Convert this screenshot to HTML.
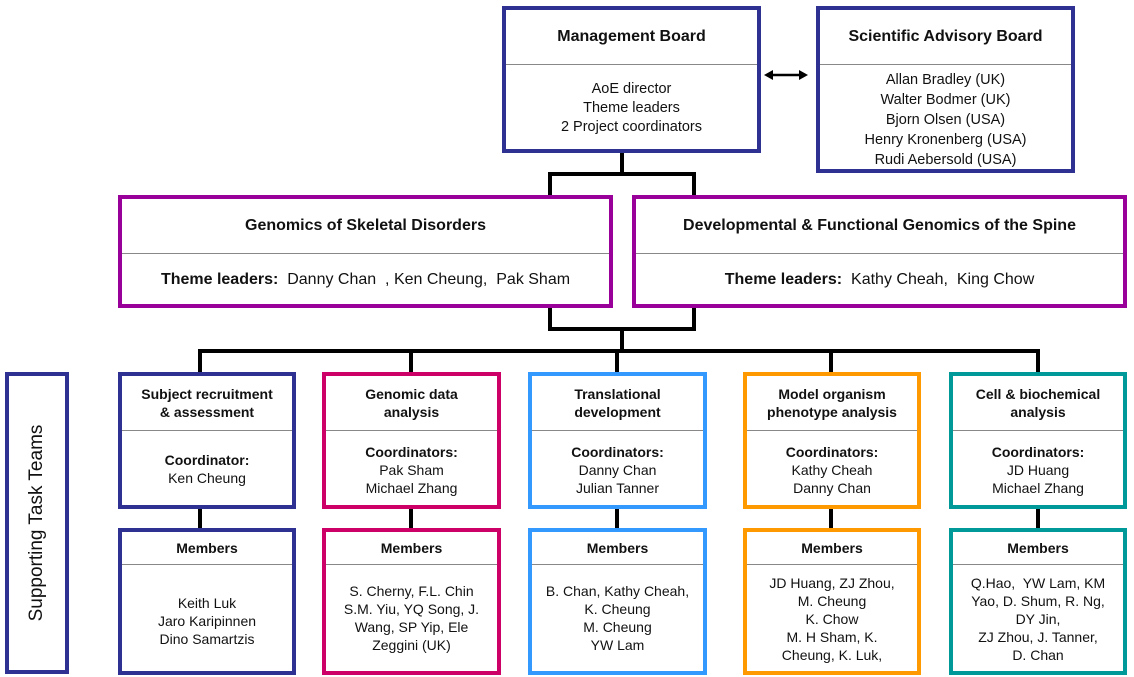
<!DOCTYPE html>
<html><head><meta charset="utf-8"><style>
body{margin:0;width:1134px;height:677px;background:#fff;position:relative;overflow:hidden;font-family:"Liberation Sans",Arial,sans-serif;color:#111}
.b{position:absolute;box-sizing:border-box;border:4px solid;background:#fff}
.d{position:absolute;left:0;right:0;border-top:1px solid #888}
.t{position:absolute;left:0;right:0;text-align:center}
.l{position:absolute;background:#000}
.bold{font-weight:bold}
</style></head><body>
<!-- connectors -->
<div class="l" style="left:620px;top:150px;width:4px;height:26px"></div>
<div class="l" style="left:548px;top:172px;width:148px;height:4px"></div>
<div class="l" style="left:548px;top:172px;width:4px;height:26px"></div>
<div class="l" style="left:692px;top:172px;width:4px;height:26px"></div>
<div class="l" style="left:548px;top:304px;width:4px;height:26px"></div>
<div class="l" style="left:692px;top:304px;width:4px;height:26px"></div>
<div class="l" style="left:548px;top:327px;width:148px;height:4px"></div>
<div class="l" style="left:620px;top:327px;width:4px;height:26px"></div>
<div class="l" style="left:198px;top:349px;width:842px;height:4px"></div>
<div class="l" style="left:198px;top:349px;width:4px;height:26px"></div>
<div class="l" style="left:409px;top:349px;width:4px;height:26px"></div>
<div class="l" style="left:615px;top:349px;width:4px;height:26px"></div>
<div class="l" style="left:829px;top:349px;width:4px;height:26px"></div>
<div class="l" style="left:1036px;top:349px;width:4px;height:26px"></div>
<div class="l" style="left:198px;top:506px;width:4px;height:24px"></div>
<div class="l" style="left:409px;top:506px;width:4px;height:24px"></div>
<div class="l" style="left:615px;top:506px;width:4px;height:24px"></div>
<div class="l" style="left:829px;top:506px;width:4px;height:24px"></div>
<div class="l" style="left:1036px;top:506px;width:4px;height:24px"></div>
<!-- arrow -->
<svg style="position:absolute;left:764px;top:68px" width="44" height="14"><line x1="6" y1="7" x2="38" y2="7" stroke="#000" stroke-width="2.5"/><polygon points="0,7 9,2 9,12" fill="#000"/><polygon points="44,7 35,2 35,12" fill="#000"/></svg>

<div class="b" style="left:502px;top:6px;width:259px;height:147px;border-color:#2e3192">
<div class="t bold" style="top:18px;font-size:16px">Management Board</div>
<div class="d" style="top:54px"></div>
<div class="t" style="top:70px;font-size:14.5px;line-height:19px">AoE director<br>Theme leaders<br>2 Project coordinators</div></div>

<div class="b" style="left:816px;top:6px;width:259px;height:167px;border-color:#2e3192">
<div class="t bold" style="top:18px;font-size:16px">Scientific Advisory Board</div>
<div class="d" style="top:54px"></div>
<div class="t" style="top:60px;font-size:14.5px;line-height:20px">Allan Bradley (UK)<br>Walter Bodmer (UK)<br>Bjorn Olsen (USA)<br>Henry Kronenberg (USA)<br>Rudi Aebersold (USA)</div></div>

<div class="b" style="left:118px;top:195px;width:495px;height:113px;border-color:#990099">
<div class="t bold" style="top:18px;font-size:16px">Genomics of Skeletal Disorders</div>
<div class="d" style="top:54px"></div>
<div class="t" style="top:72px;font-size:16px"><b>Theme leaders:</b>&nbsp; Danny Chan&nbsp; , Ken Cheung,&nbsp; Pak Sham</div></div>

<div class="b" style="left:632px;top:195px;width:495px;height:113px;border-color:#990099">
<div class="t bold" style="top:18px;font-size:16px">Developmental &amp; Functional Genomics of the Spine</div>
<div class="d" style="top:54px"></div>
<div class="t" style="top:72px;font-size:16px"><b>Theme leaders:</b>&nbsp; Kathy Cheah,&nbsp; King Chow</div></div>

<div class="b" style="left:5px;top:372px;width:64px;height:302px;border-color:#2e3192">
<div style="position:absolute;left:28px;top:147px;width:0;height:0"><div style="position:absolute;transform:translate(-50%,-50%) rotate(-90deg);white-space:nowrap;font-size:19px">Supporting Task Teams</div></div></div>

<!-- teams -->
<div class="b" style="left:118px;top:372px;width:178px;height:137px;border-color:#2e3192">
<div class="t bold" style="top:9px;font-size:14px;line-height:18px">Subject recruitment<br>&amp; assessment</div>
<div class="d" style="top:54px"></div>
<div class="t" style="top:75px;font-size:14px;line-height:18px"><b>Coordinator:</b><br>Ken Cheung</div></div>
<div class="b" style="left:118px;top:528px;width:178px;height:147px;border-color:#2e3192">
<div class="t bold" style="top:8px;font-size:14px">Members</div>
<div class="d" style="top:32px"></div>
<div class="t" style="top:62px;font-size:14px;line-height:18px">Keith Luk<br>Jaro Karipinnen<br>Dino Samartzis</div></div>

<div class="b" style="left:322px;top:372px;width:179px;height:137px;border-color:#cc0066">
<div class="t bold" style="top:9px;font-size:14px;line-height:18px">Genomic data<br>analysis</div>
<div class="d" style="top:54px"></div>
<div class="t" style="top:67px;font-size:14px;line-height:18px"><b>Coordinators:</b><br>Pak Sham<br>Michael Zhang</div></div>
<div class="b" style="left:322px;top:528px;width:179px;height:147px;border-color:#cc0066">
<div class="t bold" style="top:8px;font-size:14px">Members</div>
<div class="d" style="top:32px"></div>
<div class="t" style="top:50px;font-size:14px;line-height:18px">S. Cherny, F.L. Chin<br>S.M. Yiu, YQ Song, J.<br>Wang, SP Yip, Ele<br>Zeggini (UK)</div></div>

<div class="b" style="left:528px;top:372px;width:179px;height:137px;border-color:#3399ff">
<div class="t bold" style="top:9px;font-size:14px;line-height:18px">Translational<br>development</div>
<div class="d" style="top:54px"></div>
<div class="t" style="top:67px;font-size:14px;line-height:18px"><b>Coordinators:</b><br>Danny Chan<br>Julian Tanner</div></div>
<div class="b" style="left:528px;top:528px;width:179px;height:147px;border-color:#3399ff">
<div class="t bold" style="top:8px;font-size:14px">Members</div>
<div class="d" style="top:32px"></div>
<div class="t" style="top:50px;font-size:14px;line-height:18px">B. Chan, Kathy Cheah,<br>K. Cheung<br>M. Cheung<br>YW Lam</div></div>

<div class="b" style="left:743px;top:372px;width:178px;height:137px;border-color:#ff9900">
<div class="t bold" style="top:9px;font-size:14px;line-height:18px">Model organism<br>phenotype analysis</div>
<div class="d" style="top:54px"></div>
<div class="t" style="top:67px;font-size:14px;line-height:18px"><b>Coordinators:</b><br>Kathy Cheah<br>Danny Chan</div></div>
<div class="b" style="left:743px;top:528px;width:178px;height:147px;border-color:#ff9900">
<div class="t bold" style="top:8px;font-size:14px">Members</div>
<div class="d" style="top:32px"></div>
<div class="t" style="top:42px;font-size:14px;line-height:18px">JD Huang, ZJ Zhou,<br>M. Cheung<br>K. Chow<br>M. H Sham, K.<br>Cheung, K. Luk,</div></div>

<div class="b" style="left:949px;top:372px;width:178px;height:137px;border-color:#009999">
<div class="t bold" style="top:9px;font-size:14px;line-height:18px">Cell &amp; biochemical<br>analysis</div>
<div class="d" style="top:54px"></div>
<div class="t" style="top:67px;font-size:14px;line-height:18px"><b>Coordinators:</b><br>JD Huang<br>Michael Zhang</div></div>
<div class="b" style="left:949px;top:528px;width:178px;height:147px;border-color:#009999">
<div class="t bold" style="top:8px;font-size:14px">Members</div>
<div class="d" style="top:32px"></div>
<div class="t" style="top:42px;font-size:14px;line-height:18px">Q.Hao,&nbsp; YW Lam, KM<br>Yao, D. Shum, R. Ng,<br>DY Jin,<br>ZJ Zhou, J. Tanner,<br>D. Chan</div></div>
</body></html>
